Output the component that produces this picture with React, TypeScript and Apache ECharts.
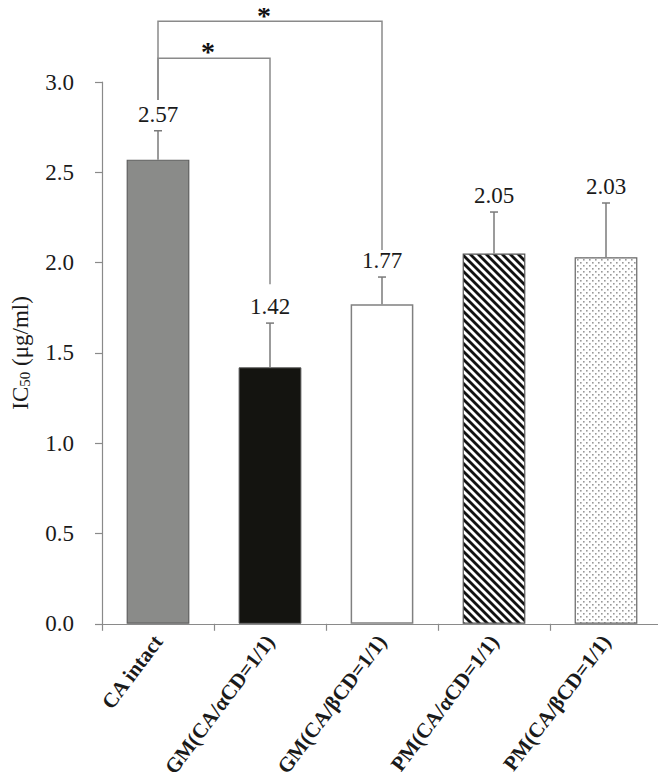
import React, { useEffect, useRef } from "react";
import * as echarts from "echarts";

const categories = [
  "CA intact",
  "GM(CA/αCD=1/1)",
  "GM(CA/βCD=1/1)",
  "PM(CA/αCD=1/1)",
  "PM(CA/βCD=1/1)",
];
const values = [2.57, 1.42, 1.77, 2.05, 2.03];
const errors = [0.16, 0.245, 0.15, 0.23, 0.3];
const valueLabels = ["2.57", "1.42", "1.77", "2.05", "2.03"];
const yTicks = [0, 0.5, 1.0, 1.5, 2.0, 2.5, 3.0];
// [fromIndex, toIndex, topY, leftBottomY, rightBottomY]
const brackets = [
  [0, 1, 3.132, 2.9, 1.88],
  [0, 2, 3.336, 2.9, 2.07],
];
const bracketMarks = ["*", "*"];

const SERIF = "Liberation Serif, Times New Roman, serif";

function makeHatch(): HTMLCanvasElement {
  const c = document.createElement("canvas");
  const n = 8;
  c.width = n;
  c.height = n;
  const ctx = c.getContext("2d")!;
  ctx.fillStyle = "#ffffff";
  ctx.fillRect(0, 0, n, n);
  ctx.strokeStyle = "#111111";
  ctx.lineWidth = 2.8;
  for (const o of [-n, 0, n]) {
    ctx.beginPath();
    ctx.moveTo(o - 1, -1);
    ctx.lineTo(o + n + 1, n + 1);
    ctx.stroke();
  }
  return c;
}

function makeDots(): HTMLCanvasElement {
  const c = document.createElement("canvas");
  const n = 6;
  c.width = n;
  c.height = n;
  const ctx = c.getContext("2d")!;
  ctx.fillStyle = "#ffffff";
  ctx.fillRect(0, 0, n, n);
  ctx.fillStyle = "#999999";
  ctx.fillRect(1, 1, 1.6, 1.6);
  ctx.fillRect(4, 4, 1.6, 1.6);
  return c;
}

export default function App() {
  const ref = useRef<HTMLDivElement>(null);
  useEffect(() => {
    if (!ref.current) return;
    const chart = echarts.init(ref.current, undefined, { renderer: "svg" });
    const hatch = makeHatch();
    const dots = makeDots();
    const barStyles = [
      { color: "#8a8b89", borderColor: "#5f5f5f", borderWidth: 1.2 },
      { color: "#141410", borderColor: "#555555", borderWidth: 1 },
      { color: "#ffffff", borderColor: "#808080", borderWidth: 1.5 },
      { color: { image: hatch, repeat: "repeat" }, borderColor: "#555555", borderWidth: 1.2 },
      { color: { image: dots, repeat: "repeat" }, borderColor: "#666666", borderWidth: 1.2 },
    ];
    const option: any = {
      animation: false,
      grid: { left: 102, right: 4, top: 82, bottom: 154, containLabel: false },
      xAxis: {
        type: "category",
        data: categories,
        axisLine: { lineStyle: { color: "#8a8a8a", width: 1.2 } },
        axisTick: { show: true, length: 7, lineStyle: { color: "#8a8a8a", width: 1.2 } },
        axisLabel: {
          rotate: 53,
          interval: 0,
          margin: 14,
          fontFamily: SERIF,
          fontWeight: "bold",
          fontSize: 21,
          color: "#1a1a1a",
        },
      },
      yAxis: {
        type: "value",
        min: 0,
        max: 3,
        interval: 0.5,
        name: "IC{sub|50} (μg/ml)",
        nameLocation: "middle",
        nameGap: 70,
        nameRotate: 90,
        nameTextStyle: {
          fontFamily: SERIF,
          fontSize: 23,
          color: "#1a1a1a",
          rich: {
            sub: { fontFamily: SERIF, fontSize: 15, color: "#1a1a1a", verticalAlign: "bottom", padding: [9, 0, 0, 0] },
          },
        },
        splitLine: { show: false },
        axisLine: { show: true, lineStyle: { color: "#8a8a8a", width: 1.2 } },
        axisTick: { show: true, length: 7, lineStyle: { color: "#8a8a8a", width: 1.2 } },
        axisLabel: {
          margin: 28,
          fontFamily: SERIF,
          fontSize: 23,
          color: "#1a1a1a",
          formatter: (v: number) => (yTicks.includes(v) ? v.toFixed(1) : ""),
        },
      },
      series: [
        {
          type: "bar",
          barWidth: "56%",
          data: values.map((v, i) => ({ value: v, itemStyle: barStyles[i] })),
          z: 2,
        },
        {
          type: "custom",
          clip: false,
          z: 3,
          encode: { x: 0, y: 2 },
          data: values.map((v, i) => [i, v, v + errors[i]]),
          renderItem: (params: any, api: any) => {
            const i = api.value(0);
            const base = api.coord([i, api.value(1)]);
            const top = api.coord([i, api.value(2)]);
            const cap = 4;
            return {
              type: "group",
              children: [
                {
                  type: "line",
                  shape: { x1: base[0], y1: base[1], x2: top[0], y2: top[1] },
                  style: { stroke: "#7a7a7a", lineWidth: 1.5 },
                },
                {
                  type: "line",
                  shape: { x1: top[0] - cap, y1: top[1], x2: top[0] + cap, y2: top[1] },
                  style: { stroke: "#7a7a7a", lineWidth: 1.5 },
                },
                {
                  type: "text",
                  x: top[0],
                  y: top[1] - 5,
                  style: {
                    text: valueLabels[params.dataIndex],
                    fontFamily: SERIF,
                    fontSize: 23,
                    fill: "#1a1a1a",
                    align: "center",
                    verticalAlign: "bottom",
                  },
                },
              ],
            };
          },
        },
        {
          type: "custom",
          clip: false,
          z: 3,
          encode: { x: 0, y: 2 },
          data: brackets,
          renderItem: (params: any, api: any) => {
            const a = api.value(0);
            const b = api.value(1);
            const yt = api.value(2);
            const lt = api.coord([a, yt]);
            const rt = api.coord([b, yt]);
            const lb = api.coord([a, api.value(3)]);
            const rb = api.coord([b, api.value(4)]);
            return {
              type: "group",
              children: [
                {
                  type: "polyline",
                  shape: { points: [lb, lt, rt, rb] },
                  style: { stroke: "#8a8a8a", lineWidth: 1.5, fill: "none" },
                },
                {
                  type: "text",
                  x: (lt[0] + rt[0]) / 2 - 6,
                  y: Math.max(1, lt[1] - 21),
                  style: {
                    text: bracketMarks[params.dataIndex],
                    fontFamily: SERIF,
                    fontSize: 28,
                    fontWeight: "bold",
                    fill: "#111111",
                    align: "center",
                    verticalAlign: "top",
                  },
                },
              ],
            };
          },
        },
      ],
    };
    chart.setOption(option);
    return () => chart.dispose();
  }, []);
  return <div ref={ref} style={{ width: 666, height: 780, margin: -8 }} />;
}
